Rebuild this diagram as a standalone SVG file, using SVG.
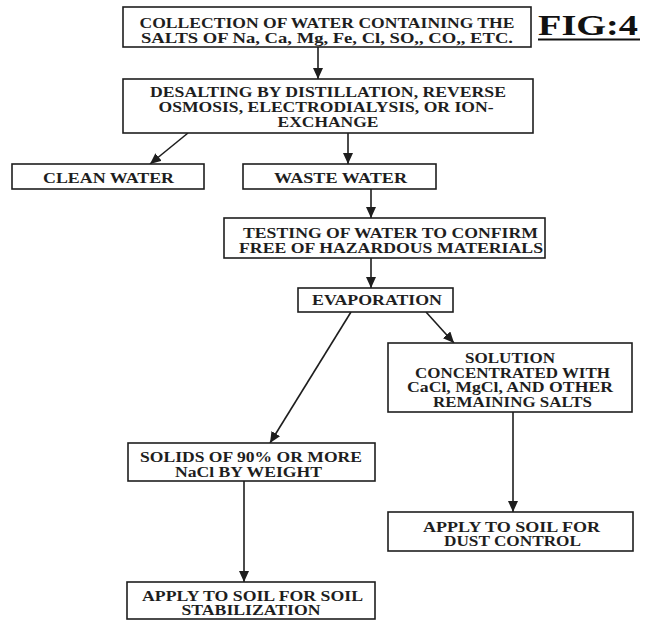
<svg xmlns="http://www.w3.org/2000/svg" width="650" height="621" viewBox="0 0 650 621">
<defs>
<style>
.box{fill:#fff;stroke:#1e1e1e;stroke-width:1.6}
.t{font-family:"Liberation Serif","Times New Roman",serif;font-weight:bold;font-size:14px;fill:#1e1e1e;text-anchor:middle}
.c{fill:none;stroke:#1e1e1e;stroke-width:1.6}
.fig{font-family:"Liberation Serif","Times New Roman",serif;font-weight:bold;font-size:29px;fill:#111}
</style>
<marker id="ah" markerUnits="userSpaceOnUse" markerWidth="12" markerHeight="10" viewBox="0 0 12 10" refX="11" refY="5" orient="auto">
<path d="M0,0 L11,5 L0,10 Z" fill="#1e1e1e"/>
</marker>
</defs>
<rect width="650" height="621" fill="#fff"/>

<g id="connectors">
<line class="c" x1="318" y1="47" x2="318" y2="79" marker-end="url(#ah)"/>
<line class="c" x1="188" y1="133" x2="150" y2="164" marker-end="url(#ah)"/>
<line class="c" x1="348" y1="133" x2="348" y2="164" marker-end="url(#ah)"/>
<line class="c" x1="371" y1="189" x2="371" y2="218" marker-end="url(#ah)"/>
<line class="c" x1="371" y1="258" x2="371" y2="288" marker-end="url(#ah)"/>
<line class="c" x1="351" y1="312" x2="270" y2="443" marker-end="url(#ah)"/>
<line class="c" x1="426" y1="312" x2="454" y2="343" marker-end="url(#ah)"/>
<line class="c" x1="244" y1="481" x2="244" y2="582" marker-end="url(#ah)"/>
<line class="c" x1="513" y1="412" x2="513" y2="512" marker-end="url(#ah)"/>
</g>

<g id="collection">
<rect class="box" x="123" y="7" width="408" height="40"/>
<text class="t" x="327" y="28" textLength="375" lengthAdjust="spacingAndGlyphs">COLLECTION OF WATER CONTAINING THE</text>
<text class="t" x="327" y="43" textLength="372" lengthAdjust="spacingAndGlyphs">SALTS OF Na, Ca, Mg, Fe, Cl, SO,, CO,, ETC.</text>
</g>

<g id="fig-label">
<text class="fig" x="538" y="35" textLength="100" lengthAdjust="spacingAndGlyphs">FIG:4</text>
<line x1="538" y1="39.5" x2="640" y2="39.5" stroke="#111" stroke-width="2"/>
</g>

<g id="desalting">
<rect class="box" x="123" y="79" width="410" height="54"/>
<text class="t" x="328" y="97" textLength="356" lengthAdjust="spacingAndGlyphs">DESALTING BY DISTILLATION, REVERSE</text>
<text class="t" x="326" y="112" textLength="335" lengthAdjust="spacingAndGlyphs">OSMOSIS, ELECTRODIALYSIS, OR ION-</text>
<text class="t" x="328" y="127" textLength="101" lengthAdjust="spacingAndGlyphs">EXCHANGE</text>
</g>

<g id="clean-water">
<rect class="box" x="12" y="164" width="192" height="25"/>
<text class="t" x="108.5" y="182.5" textLength="131" lengthAdjust="spacingAndGlyphs">CLEAN WATER</text>
</g>

<g id="waste-water">
<rect class="box" x="243" y="164" width="193" height="25"/>
<text class="t" x="340.5" y="182.5" textLength="133" lengthAdjust="spacingAndGlyphs">WASTE WATER</text>
</g>

<g id="testing">
<rect class="box" x="224" y="218" width="321" height="40"/>
<text class="t" x="390.5" y="237.5" textLength="295" lengthAdjust="spacingAndGlyphs">TESTING OF WATER TO CONFIRM</text>
<text class="t" x="391" y="252.5" textLength="304" lengthAdjust="spacingAndGlyphs">FREE OF HAZARDOUS MATERIALS</text>
</g>

<g id="evaporation">
<rect class="box" x="298" y="288" width="155" height="24"/>
<text class="t" x="377" y="305" textLength="130" lengthAdjust="spacingAndGlyphs">EVAPORATION</text>
</g>

<g id="solution">
<rect class="box" x="388" y="343" width="244" height="69"/>
<text class="t" x="510" y="362.5" textLength="90" lengthAdjust="spacingAndGlyphs">SOLUTION</text>
<text class="t" x="512.5" y="377.5" textLength="195" lengthAdjust="spacingAndGlyphs">CONCENTRATED WITH</text>
<text class="t" x="510" y="391.5" textLength="206" lengthAdjust="spacingAndGlyphs">CaCl, MgCl, AND OTHER</text>
<text class="t" x="512.5" y="406.5" textLength="159" lengthAdjust="spacingAndGlyphs">REMAINING SALTS</text>
</g>

<g id="solids">
<rect class="box" x="128" y="443" width="247" height="38"/>
<text class="t" x="251" y="461.5" textLength="222" lengthAdjust="spacingAndGlyphs">SOLIDS OF 90% OR MORE</text>
<text class="t" x="248.5" y="476.5" textLength="147" lengthAdjust="spacingAndGlyphs">NaCl BY WEIGHT</text>
</g>

<g id="dust-control">
<rect class="box" x="388" y="512" width="245" height="39"/>
<text class="t" x="511.5" y="531.5" textLength="177" lengthAdjust="spacingAndGlyphs">APPLY TO SOIL FOR</text>
<text class="t" x="512.5" y="545.5" textLength="137" lengthAdjust="spacingAndGlyphs">DUST CONTROL</text>
</g>

<g id="soil-stabilization">
<rect class="box" x="127" y="582" width="248" height="37"/>
<text class="t" x="252.5" y="600.5" textLength="221" lengthAdjust="spacingAndGlyphs">APPLY TO SOIL FOR SOIL</text>
<text class="t" x="251" y="614.5" textLength="139" lengthAdjust="spacingAndGlyphs">STABILIZATION</text>
</g>
</svg>
